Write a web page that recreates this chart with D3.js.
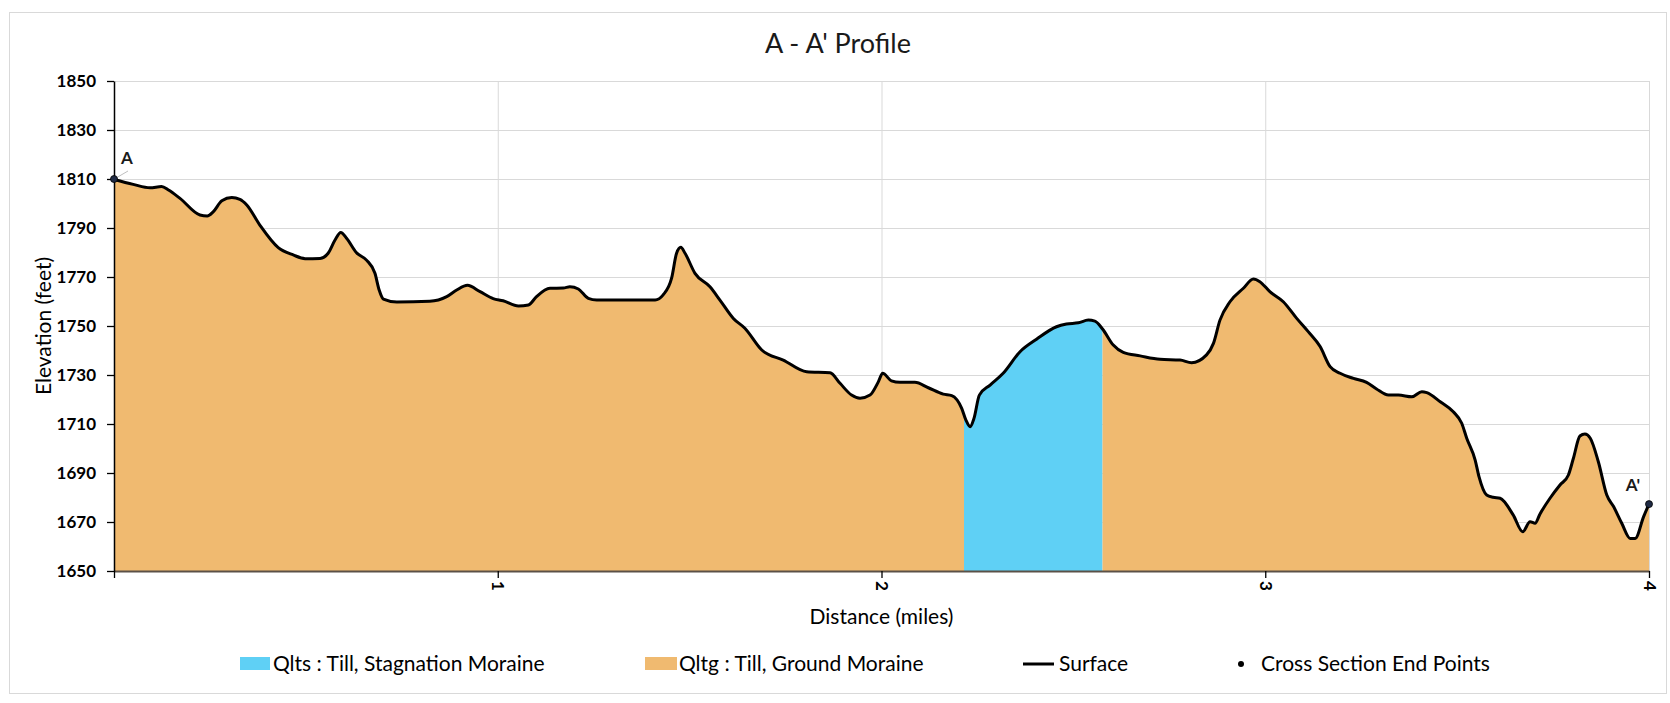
<!DOCTYPE html>
<html>
<head>
<meta charset="utf-8">
<script src="https://cdn.jsdelivr.net/npm/d3@7"></script>
<style>
	body { margin: 0; background: #fff; }
	text { font-family: Lato, "Open Sans", sans-serif; fill: #000; }
	.tick text { font-weight: bold; font-size: 17px; }
	.grid line { stroke: #d9d9d9; stroke-width: 1; }
</style>
</head>
<body>
<div id="profile_chart"></div>
<script>
// A - A' surface profile, geologic units filled under the surface line

// surface profile read from the section (miles, feet)
var distance = [0.000, 0.050, 0.094, 0.124, 0.142, 0.172, 0.224, 0.243, 0.259, 0.281, 0.307, 0.328, 0.346, 0.380,
	0.428, 0.467, 0.498, 0.537, 0.558, 0.576, 0.591, 0.606, 0.632, 0.658, 0.680, 0.691, 0.702, 0.737, 0.823,
	0.867, 0.893, 0.921, 0.954, 0.988, 1.014, 1.054, 1.080, 1.101, 1.136, 1.171, 1.188, 1.210, 1.236, 1.258,
	1.410, 1.431, 1.453, 1.466, 1.477, 1.488, 1.514, 1.553, 1.579, 1.614, 1.644, 1.688, 1.744, 1.805, 1.866,
	1.892, 1.922, 1.944, 1.970, 1.992, 2.003, 2.026, 2.048, 2.087, 2.122, 2.161, 2.183, 2.209, 2.220, 2.231,
	2.241, 2.255, 2.283, 2.317, 2.361, 2.404, 2.456, 2.482, 2.513, 2.539, 2.556, 2.576, 2.604, 2.630, 2.674,
	2.726, 2.778, 2.808, 2.847, 2.865, 2.882, 2.908, 2.943, 2.969, 2.986, 3.012, 3.047, 3.082, 3.112, 3.143,
	3.169, 3.195, 3.230, 3.264, 3.290, 3.321, 3.347, 3.382, 3.408, 3.421, 3.456, 3.490, 3.512, 3.525, 3.547,
	3.557, 3.577, 3.594, 3.612, 3.646, 3.671, 3.690, 3.703, 3.716, 3.742, 3.768, 3.790, 3.803, 3.820, 3.833,
	3.847, 3.868, 3.890, 3.908, 3.929, 3.951, 3.964, 3.986, 4.000];
var elevation = [1809.8, 1807.8, 1806.4, 1806.9, 1805.5, 1802.1, 1795.3, 1794.9, 1796.7, 1801.1, 1802.4, 1801.7, 1799.4, 1791.2,
	1782.0, 1779.0, 1777.5, 1777.6, 1779.7, 1785.1, 1788.2, 1785.8, 1779.9, 1776.9, 1771.5, 1764.7, 1761.0, 1759.8, 1760.1,
	1762.0, 1764.7, 1766.6, 1764.0, 1761.2, 1760.3, 1758.2, 1758.6, 1762.0, 1765.4, 1765.5, 1766.0, 1765.1, 1761.3, 1760.6,
	1760.6, 1762.7, 1769.5, 1779.7, 1782.1, 1779.7, 1771.5, 1766.0, 1760.6, 1753.1, 1749.1, 1740.2, 1736.1, 1731.3, 1730.9,
	1726.6, 1721.8, 1720.5, 1721.8, 1727.3, 1730.7, 1727.6, 1727.0, 1727.0, 1724.8, 1722.2, 1721.6, 1716.4, 1711.6, 1708.9,
	1712.3, 1721.8, 1725.9, 1730.7, 1739.5, 1744.6, 1749.7, 1750.8, 1751.3, 1752.4, 1752.0, 1748.8, 1742.2, 1739.2, 1737.8,
	1736.4, 1736.1, 1735.0, 1738.2, 1742.9, 1752.4, 1759.9, 1765.4, 1769.2, 1768.1, 1764.0, 1759.9, 1753.1, 1747.7, 1741.6,
	1733.4, 1730.7, 1728.6, 1727.0, 1724.3, 1721.8, 1721.8, 1721.1, 1723.2, 1722.8, 1719.1, 1715.0, 1710.3, 1704.2, 1695.3,
	1688.5, 1681.0, 1680.1, 1679.7, 1672.9, 1666.0, 1670.1, 1669.5, 1673.3, 1679.7, 1685.1, 1689.2, 1696.0, 1705.1, 1705.9,
	1704.2, 1694.6, 1681.0, 1676.2, 1669.5, 1663.3, 1663.3, 1672.2, 1677.3];

// geologic units along the section
var unitStart = [0, 2.215, 2.576];
var unitEnd = [2.215, 2.576, 4];
var unitCode = ["Qltg", "Qlts", "Qltg"];

// end points of the cross section
var endLabels = ["A", "A'"];
var endDistance = [0, 4];
var endElevation = [1810, 1677.3];

// axis ticks
var xTicks = [0, 1, 2, 3, 4];
var yTicks = [1650, 1670, 1690, 1710, 1730, 1750, 1770, 1790, 1810, 1830, 1850];

// legend entries
var legendLabels = ["Qlts : Till, Stagnation Moraine", "Qltg : Till, Ground Moraine", "Surface", "Cross Section End Points"];

var unitColor = { "Qlts": "#5fd0f5", "Qltg": "#f0ba70" };

var margin = { top: 81, right: 21, bottom: 132, left: 114 },
	width = 1670 - margin.left - margin.right,
	height = 703 - margin.top - margin.bottom;

var x = d3.scaleLinear().domain([0, 4]).range([0, width]);
var y = d3.scaleLinear().domain([1650, 1850]).range([height, 0]);

var svg_root = d3.select("#profile_chart")
	.append("svg")
		.attr("width", 1670)
		.attr("height", 703);

// chart border
svg_root.append("rect")
	.attr("x", 9.5).attr("y", 12.5)
	.attr("width", 1657).attr("height", 681)
	.attr("fill", "#fff")
	.attr("stroke", "#d9d9d9");

svg_root.append("text")
	.attr("x", 838).attr("y", 53)
	.style("text-anchor", "middle")
	.style("font-size", "27px")
	.style("fill", "#1a1a1a")
	.text("A - A' Profile");

var svg = svg_root.append("g")
	.attr("transform", "translate(" + margin.left + "," + margin.top + ")");

// gridlines
svg.append("g").attr("class", "grid")
	.selectAll("line").data(yTicks.slice(1))
	.enter().append("line")
		.attr("x1", 0).attr("x2", width)
		.attr("y1", function(d) { return y(d) + 0.5; })
		.attr("y2", function(d) { return y(d) + 0.5; });

svg.append("g").attr("class", "grid")
	.selectAll("line").data(xTicks.slice(1))
	.enter().append("line")
		.attr("y1", 0).attr("y2", height)
		.attr("x1", function(d) { return x(d) + 0.5; })
		.attr("x2", function(d) { return x(d) + 0.5; });

var profile = distance.map(function(d, i) { return { d: d, e: elevation[i] }; });

var area = d3.area()
	.curve(d3.curveMonotoneX)
	.x(function(p) { return x(p.d); })
	.y0(height)
	.y1(function(p) { return y(p.e); });

var line = d3.line()
	.curve(d3.curveMonotoneX)
	.x(function(p) { return x(p.d); })
	.y(function(p) { return y(p.e); });

// one clipped copy of the area per unit
var defs = svg.append("defs");
unitCode.forEach(function(code, i) {
	defs.append("clipPath").attr("id", "unit_clip_" + i)
		.append("rect")
			.attr("x", x(unitStart[i]))
			.attr("y", -10)
			.attr("width", x(unitEnd[i]) - x(unitStart[i]))
			.attr("height", height + 10);
	svg.append("path")
		.datum(profile)
		.attr("clip-path", "url(#unit_clip_" + i + ")")
		.attr("fill", unitColor[code])
		.attr("d", area);
});

// axes
var yAxis = d3.axisLeft(y).tickValues(yTicks).tickSize(7).tickSizeOuter(0).tickPadding(11)
	.tickFormat(d3.format("d"));
var xAxis = d3.axisBottom(x).tickValues(xTicks).tickSize(7).tickSizeOuter(0)
	.tickFormat(function(d) { return d === 0 ? "" : d; });

var gx = svg.append("g")
	.attr("class", "x axis")
	.attr("transform", "translate(0," + height + ")")
	.call(xAxis);
gx.select(".domain").attr("stroke", "#5b5147").attr("stroke-width", 2);
gx.selectAll(".tick line").attr("stroke", "#000").attr("stroke-width", 1.3);
gx.selectAll(".tick text")
	.attr("transform", "rotate(90)")
	.attr("x", 10).attr("y", 0).attr("dy", "0.35em")
	.style("text-anchor", "start");

var gy = svg.append("g")
	.attr("class", "y axis")
	.call(yAxis);
gy.select(".domain").attr("stroke", "#000").attr("stroke-width", 1.5);
gy.selectAll(".tick line").attr("stroke", "#000").attr("stroke-width", 1.3);

// surface line
svg.append("path")
	.datum(profile)
	.attr("fill", "none")
	.attr("stroke", "#000")
	.attr("stroke-width", 3)
	.attr("stroke-linejoin", "round")
	.attr("d", line);

// end points and their labels
svg.append("line")
	.attr("x1", x(endDistance[0]) + 2).attr("y1", y(endElevation[0]) - 1)
	.attr("x2", x(endDistance[0]) + 14).attr("y2", y(endElevation[0]) - 8)
	.attr("stroke", "#bfbfbf").attr("stroke-width", 1);

svg.selectAll(".endpoint")
	.data(endDistance)
	.enter().append("circle")
		.attr("class", "endpoint")
		.attr("cx", function(d) { return x(d); })
		.attr("cy", function(d, i) { return y(endElevation[i]); })
		.attr("r", 3.5)
		.attr("fill", "#1f2a44")
		.attr("stroke", "#000")
		.attr("stroke-width", 0.8);

svg.selectAll(".endlabel")
	.data(endLabels)
	.enter().append("text")
		.attr("class", "endlabel")
		.attr("x", function(d, i) { return i === 0 ? x(endDistance[i]) + 13 : x(endDistance[i]) - 16; })
		.attr("y", function(d, i) { return y(endElevation[i]) - (i === 0 ? 15 : 13); })
		.style("text-anchor", "middle")
		.style("font-weight", "bold")
		.style("font-size", "17px")
		.style("fill", "#1a1a1a")
		.text(function(d) { return d; });

// axis titles
svg_root.append("text")
	.attr("transform", "translate(51," + (margin.top + height / 2) + ") rotate(-90)")
	.style("text-anchor", "middle")
	.style("font-size", "21px")
	.text("Elevation (feet)");

svg_root.append("text")
	.attr("x", margin.left + width / 2).attr("y", 624)
	.style("text-anchor", "middle")
	.style("font-size", "21px")
	.text("Distance (miles)");

// legend
var legend = svg_root.append("g").attr("transform", "translate(0,664)");
var legendX = [240, 645, 1023, 1236];

legend.append("rect").attr("x", legendX[0]).attr("y", -7).attr("width", 30).attr("height", 13).attr("fill", unitColor["Qlts"]);
legend.append("rect").attr("x", legendX[1]).attr("y", -7).attr("width", 32).attr("height", 13).attr("fill", unitColor["Qltg"]);
legend.append("line").attr("x1", legendX[2]).attr("x2", legendX[2] + 31).attr("y1", 0).attr("y2", 0)
	.attr("stroke", "#000").attr("stroke-width", 3);
legend.append("circle").attr("cx", legendX[3] + 5).attr("cy", 0).attr("r", 3).attr("fill", "#000");

var legendTextX = [273, 679, 1059, 1261];
legend.selectAll(".legend_text")
	.data(legendLabels)
	.enter().append("text")
		.attr("class", "legend_text")
		.attr("x", function(d, i) { return legendTextX[i]; })
		.attr("y", 7)
		.style("font-size", "21px")
		.text(function(d) { return d; });
</script>
</body>
</html>
